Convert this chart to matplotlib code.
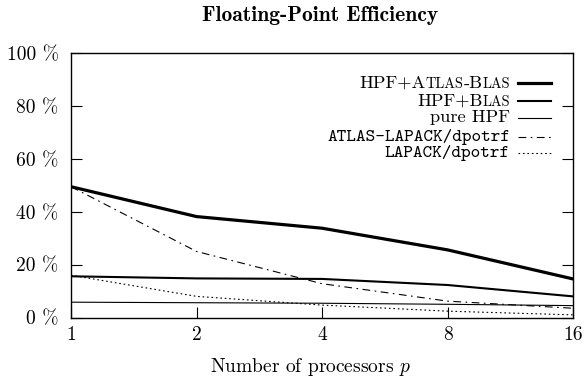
import matplotlib
matplotlib.use("Agg")
import matplotlib.pyplot as plt
from matplotlib.offsetbox import TextArea, HPacker, AnnotationBbox

plt.rcParams['font.family'] = ['cmr10', 'DejaVu Serif']
plt.rcParams['mathtext.fontset'] = 'cm'
plt.rcParams['axes.formatter.use_mathtext'] = True

procs = [1, 2, 4, 8, 16]
hpf_atlas_blas = [49.5, 38.2, 33.8, 25.6, 14.6]
hpf_blas = [15.6, 14.8, 14.6, 12.3, 8.0]
pure_hpf = [5.8, 5.6, 5.4, 5.0, 4.5]
atlas_lapack = [49.5, 25.0, 12.8, 6.2, 3.5]
lapack = [16.0, 8.0, 4.7, 2.4, 1.0]

yticks = [0, 20, 40, 60, 80, 100]
ytick_labels = ['%d %%' % v for v in yticks]

fig = plt.figure(figsize=(5.85, 3.85), dpi=100)
ax = fig.add_axes([0.1214, 0.1753, 0.8581, 0.6863])

ax.plot(procs, hpf_atlas_blas, color='black', lw=2.3)
ax.plot(procs, hpf_blas, color='black', lw=1.5)
ax.plot(procs, pure_hpf, color='black', lw=0.8)
ax.plot(procs, atlas_lapack, color='black', lw=0.8, ls=(0, (7, 4, 1.5, 4)))
ax.plot(procs, lapack, color='black', lw=0.8, ls=(0, (1.5, 2.5)))

ax.set_xscale('log', base=2)
ax.set_xlim(1, 16)
ax.set_ylim(0, 100)
ax.set_xticks(procs)
ax.set_xticklabels([str(p) for p in procs])
ax.minorticks_off()
ax.set_yticks(yticks)
ax.set_yticklabels(ytick_labels)
ax.tick_params(direction='in', length=8, width=0.8, labelsize=14)
ax.tick_params(axis='y', right=True, pad=9)
ax.tick_params(axis='x', top=False, pad=6)
for s in ax.spines.values():
    s.set_linewidth(1.0)

ax.set_xlabel('Number of processors $p$', fontsize=14, labelpad=9)
ax.xaxis.label.set_x(0.478)
fig.text(0.548, 0.96, 'Floating-Point Efficiency', family='cmb10',
         fontsize=15.5, ha='center', va='center')

# key, right aligned labels with line samples
rows = [0.886, 0.819, 0.756, 0.684, 0.621]
tx = 0.8745
lx = [0.8904, 0.9556]
styles = [dict(lw=2.3), dict(lw=1.5), dict(lw=0.8),
          dict(lw=0.8, ls=(0, (7, 4, 1.5, 4))), dict(lw=0.8, ls=(0, (1.5, 2.5)))]
for y, st in zip(rows, styles):
    ax.plot(lx, [y, y], color='black', transform=ax.transAxes, clip_on=False, **st)

fs = 13.2
big = dict(fontsize=fs, family='cmr10')
small = dict(fontsize=fs * 0.78, family='cmr10')


def smallcaps(parts):
    areas = [TextArea(t, textprops=(big if b else small)) for t, b in parts]
    return HPacker(children=areas, align='baseline', pad=0, sep=0)


p1 = smallcaps([('HPF+A', True), ('TLAS', False), ('-B', True), ('LAS', False)])
p2 = smallcaps([('HPF+B', True), ('LAS', False)])
for pk, y in [(p1, rows[0]), (p2, rows[1])]:
    ab = AnnotationBbox(pk, (tx, y), xycoords='axes fraction', box_alignment=(1, 0.5),
                        frameon=False, pad=0)
    ax.add_artist(ab)

ax.text(tx, rows[2], 'pure HPF', transform=ax.transAxes, ha='right', va='center', fontsize=fs)
ax.text(tx, rows[3], 'ATLAS-LAPACK/dpotrf', transform=ax.transAxes, ha='right', va='center',
        fontsize=fs, family='cmtt10')
ax.text(tx, rows[4], 'LAPACK/dpotrf', transform=ax.transAxes, ha='right', va='center',
        fontsize=fs, family='cmtt10')

plt.savefig('out.png', dpi=100)
